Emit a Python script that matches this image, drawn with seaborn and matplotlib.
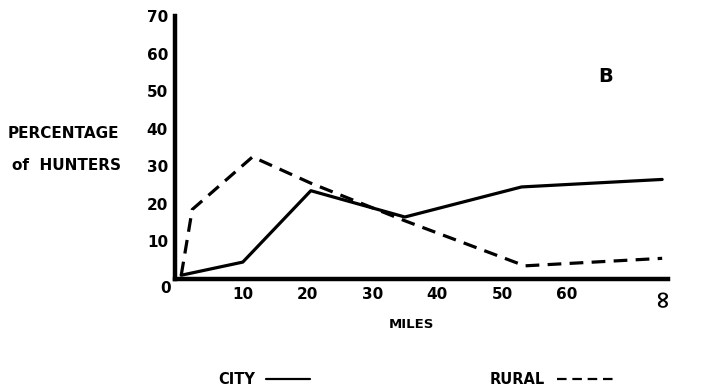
import matplotlib
matplotlib.use("Agg")
import matplotlib.pyplot as plt
import seaborn as sns
import pandas as pd

# Distance travelled (miles) and share of hunters; the last point is the "∞" class
city_miles = [0.5, 10, 20.5, 35, 53, 74.7]
city_pct = [1, 4.5, 23.5, 16.5, 24.5, 26.5]
rural_miles = [0.5, 2.2, 11.5, 20.5, 35, 53.5, 74.7]
rural_pct = [1, 18.5, 32.5, 25.5, 15.5, 3.5, 5.5]

x_ticks = [10, 20, 30, 40, 50, 60, 74.7]
x_tick_labels = ["10", "20", "30", "40", "50", "60", "\u221e"]
x_minor = [5, 15, 25, 35, 45, 55, 65, 70]
y_ticks = [10, 20, 30, 40, 50, 60, 70]

df = pd.concat([
    pd.DataFrame({"miles": city_miles, "pct": city_pct, "area": "CITY"}),
    pd.DataFrame({"miles": rural_miles, "pct": rural_pct, "area": "RURAL"}),
], ignore_index=True)

sns.set_theme(style="white")
plt.rcParams["font.family"] = ["DejaVu Sans"]
plt.rcParams["font.weight"] = "bold"
plt.rcParams["text.color"] = "black"

W, H = 711, 391
fig = plt.figure(figsize=(W / 100, H / 100), dpi=100)
x0, x1, y0, y1 = 175, 668, 279, 16
ax = fig.add_axes([x0 / W, 1 - y0 / H, (x1 - x0) / W, (y0 - y1) / H])

sns.lineplot(data=df, x="miles", y="pct", style="area",
             dashes={"CITY": "", "RURAL": (4.3, 2.6)},
             color="black", linewidth=2.3, estimator=None, sort=False,
             legend=False, ax=ax)

ax.set_xlim(-0.46, 75.6)
ax.set_ylim(0, 70)

for side in ("top", "right"):
    ax.spines[side].set_visible(False)
for side in ("left", "bottom"):
    ax.spines[side].set_linewidth(3.2)
    ax.spines[side].set_color("black")

ax.set_xticks(x_ticks)
ax.set_xticklabels(x_tick_labels)
ax.set_xticks(x_minor, minor=True)
ax.set_yticks(y_ticks)
ax.tick_params(axis="both", which="both", direction="out", length=4, width=1.8,
               color="black", labelsize=11, labelcolor="black")
ax.tick_params(axis="x", pad=2)
ax.tick_params(axis="y", pad=1)
for lab in ax.get_xticklabels() + ax.get_yticklabels():
    lab.set_fontweight("bold")
inf_lab = ax.get_xticklabels()[-1]
inf_lab.set_rotation(90)
inf_lab.set_fontsize(17)

ax.set_xlabel("")
ax.set_ylabel("")

# shared origin label
ax.annotate("0", xy=(0, 0), xycoords="data", xytext=(-9, -7),
            textcoords="offset points", ha="center", va="center",
            fontsize=11, fontweight="bold", color="black")

fig.text(8 / W, 1 - 134 / H, "PERCENTAGE", fontsize=11, fontweight="bold",
         ha="left", va="center", color="black")
fig.text(12 / W, 1 - 166 / H, "of  HUNTERS", fontsize=11, fontweight="bold",
         ha="left", va="center", color="black")
fig.text(411 / W, 1 - 324 / H, "MILES", fontsize=9.5, fontweight="bold",
         ha="center", va="center", color="black")
fig.text(606 / W, 1 - 77 / H, "B", fontsize=14, fontweight="bold",
         ha="center", va="center", color="black")

city_line, rural_line = ax.lines[0], ax.lines[1]
leg1 = fig.legend([city_line], ["CITY"], loc="center", bbox_to_anchor=(264 / W, 1 - 380 / H),
                  markerfirst=False, frameon=False, handlelength=3.0,
                  prop={"size": 10.5, "weight": "bold"})
leg2 = fig.legend([rural_line], ["RURAL"], loc="center", bbox_to_anchor=(554 / W, 1 - 380 / H),
                  markerfirst=False, frameon=False, handlelength=4.2,
                  prop={"size": 10.5, "weight": "bold"})
for leg in (leg1, leg2):
    for h in leg.legend_handles:
        h.set_linewidth(1.6)
    for t in leg.get_texts():
        t.set_color("black")

fig.savefig("out.png", dpi=100)
